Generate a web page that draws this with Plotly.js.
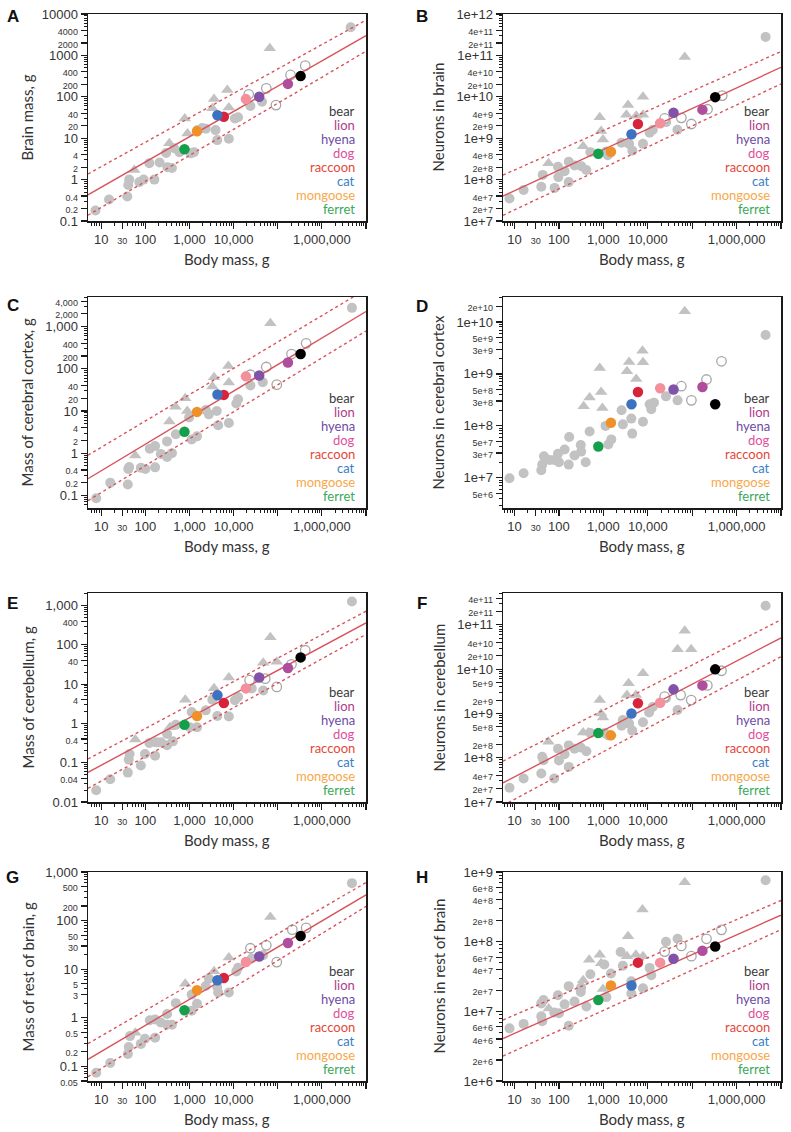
<!DOCTYPE html>
<html>
<head>
<meta charset="utf-8">
<script src="https://cdn.plot.ly/plotly-3.0.1.min.js"></script>
<style>
  html, body { margin: 0; padding: 0; background: #fff; }
  #chart { width: 791px; height: 1132px; }
</style>
</head>
<body>
<div id="chart"></div>
<script>
// Brain scaling in carnivorans - eight log-log panels

// coloured species (top to bottom in the legends) and their body masses, g
const speciesNames = ['bear', 'lion', 'hyena', 'dog', 'raccoon', 'cat', 'mongoose', 'ferret'];
const speciesBody = [330000, 170000, 38000, 19000, 6000, 4300, 1480, 770];
const speciesTextColors = ['#3a3a3a', '#b03c8c', '#6e4aa6', '#e0509e', '#e4483a', '#3b7dc4', '#f6a84a', '#3aa85a'];
const speciesDotColors = ['#000000', '#b04e9e', '#8152a8', '#f4909c', '#d8243a', '#3c72c0', '#f09028', '#14a04a'];

// x axis ticks (shared by all panels)
const xTicks = [10, 30, 100, 1000, 10000, 100000, 1000000, 10000000];
const xLabels = ['10', '30', '100', '1,000', '10,000', '', '1,000,000', ''];

// ---- A: brain mass
const grayA_x = [7.4, 15, 39, 41, 43, 73, 91, 123, 160, 210, 295, 315, 400, 450, 590, 1070, 1260, 1520, 1950, 2340, 3900, 4260, 7800, 10700, 12600, 24000, 44000, 4.5e6];
const grayA_y = [0.18, 0.33, 0.39, 0.74, 1.0, 0.87, 1.0, 2.5, 1.0, 2.6, 4.4, 2.0, 1.9, 5.7, 4.6, 4.3, 4.6, 15.8, 17.7, 16.9, 15.7, 9.0, 9.7, 30, 32, 60, 76, 4800];
const triA_x = [56, 350, 780, 900, 3300, 3600, 7200, 7800, 66000];
const triA_y = [1.7, 7.5, 30, 13, 53, 88, 145, 55, 1480];
const openA_x = [22000, 55000, 91000, 195000, 420000];
const openA_y = [115, 160, 63, 337, 565];
const speciesA_y = [316, 205, 100, 88, 33, 36, 14.7, 5.4];
const fitA = [-0.798, 0.611], upperA = [-0.278, 0.59], lowerA = [-1.302, 0.629];
const yTicksA = [0.1, 0.2, 0.4, 1, 2, 4, 10, 20, 40, 100, 200, 400, 1000, 2000, 4000, 10000];
const yLabelsA = ['0.1', '0.2', '0.4', '1', '2', '4', '10', '20', '40', '100', '200', '400', '1000', '2000', '4000', '10000'];

// ---- B: neurons in brain
const grayB_x = [7.7, 16, 40, 43, 80, 95, 97, 134, 166, 166, 225, 320, 415, 510, 1170, 1260, 2560, 3800, 4500, 7800, 11000, 13000, 26000, 46500, 4.5e6];
const grayB_y = [3.5e7, 5.6e7, 6.7e7, 1.3e8, 6.3e7, 2.05e8, 1.15e8, 1.6e8, 8.7e7, 2.7e8, 2.2e8, 2.1e8, 1.7e8, 4.6e8, 4.8e8, 3.9e8, 7.8e8, 7.3e8, 5.0e8, 7.3e8, 1.35e9, 1.6e9, 2.45e9, 1.6e9, 2.8e11];
const triB_x = [58, 350, 830, 890, 980, 3300, 3600, 5500, 7800, 7800, 68000];
const triB_y = [2.5e8, 6.4e8, 3.2e9, 1.5e9, 9.3e8, 3.7e9, 6.3e9, 3.5e9, 1.0e10, 3.7e9, 9.1e10];
const openB_x = [24000, 57000, 96000, 222000, 475000];
const openB_y = [3.0e9, 3.1e9, 2.2e9, 5.0e9, 1.07e10];
const speciesB_y = [9.8e9, 4.9e9, 4.1e9, 2.3e9, 2.2e9, 1.25e9, 4.7e8, 4.2e8];
const fitB = [7.234, 0.497], upperB = [7.755, 0.477], lowerB = [6.762, 0.507];
const yTicksB = [1e7, 2e7, 4e7, 1e8, 2e8, 4e8, 1e9, 2e9, 4e9, 1e10, 2e10, 4e10, 1e11, 2e11, 4e11, 1e12];
const yLabelsB = ['1e+7', '2e+7', '4e+7', '1e+8', '2e+8', '4e+8', '1e+9', '2e+9', '4e+9', '1e+10', '2e+10', '4e+10', '1e+11', '2e+11', '4e+11', '1e+12'];

// ---- C: mass of cerebral cortex
const grayC_x = [7.7, 16, 40, 41, 43, 79, 100, 126, 166, 166, 224, 310, 310, 400, 490, 1120, 1480, 980, 2340, 2750, 4150, 4470, 7800, 11500, 12600, 24000, 45700, 4.8e6];
const grayC_y = [0.085, 0.20, 0.18, 0.42, 0.47, 0.45, 0.42, 1.27, 1.47, 0.46, 0.96, 0.81, 1.9, 1.0, 2.8, 2.1, 2.5, 7.0, 10.5, 8.3, 10, 4.6, 5.2, 15, 19, 40, 48, 2770];
const triC_x = [59, 350, 480, 800, 890, 3300, 3600, 7600, 7800, 68000];
const triC_y = [0.88, 5.6, 12.6, 20, 10, 38, 63, 116, 47, 1200];
const openC_x = [24000, 55000, 95000, 205000, 440000];
const openC_y = [72, 110, 42, 223, 400];
const speciesC_y = [223, 140, 69, 66, 24, 24.5, 9.5, 3.2];
const fitC = [-1.047, 0.629], upperC = [-0.486, 0.624], lowerC = [-1.572, 0.638];
const yTicksC = [0.1, 0.2, 0.4, 1, 2, 4, 10, 20, 40, 100, 200, 400, 1000, 2000, 4000];
const yLabelsC = ['0.1', '0.2', '0.4', '1', '2', '4', '10', '20', '40', '100', '200', '400', '1,000', '2,000', '4,000'];

// ---- D: neurons in cerebral cortex (no fit)
const grayD_x = [7.7, 16, 40, 42, 46, 62, 79, 95, 100, 134, 166, 170, 224, 310, 316, 400, 490, 1120, 1290, 1510, 2570, 2750, 4260, 4470, 7800, 11000, 12000, 13800, 25700, 46800, 4.5e6];
const grayD_y = [9.8e6, 1.23e7, 1.4e7, 1.8e7, 2.6e7, 2.2e7, 2.2e7, 2.9e7, 2.0e7, 3.5e7, 1.8e7, 6.1e7, 2.7e7, 4.3e7, 3.2e7, 2.0e7, 7.8e7, 1.0e8, 4.4e7, 5.5e7, 2.0e8, 1.07e8, 1.38e8, 7.1e7, 1.2e8, 2.6e8, 2.1e8, 2.8e8, 3.7e8, 3.1e8, 5.6e9];
const triD_x = [360, 490, 830, 890, 950, 3400, 3800, 5500, 7600, 7800, 68000];
const triD_y = [2.4e8, 3.5e8, 1.3e9, 4.5e8, 2.2e8, 1.12e9, 1.7e9, 8.0e8, 2.8e9, 1.67e9, 1.6e10];
const openD_x = [57000, 96000, 210000, 457000];
const openD_y = [5.8e8, 3.1e8, 7.8e8, 1.75e9];
const speciesD_y = [2.6e8, 5.6e8, 5.0e8, 5.3e8, 4.5e8, 2.6e8, 1.15e8, 4.0e7];
const yTicksD = [5e6, 1e7, 3e7, 5e7, 1e8, 3e8, 5e8, 1e9, 3e9, 5e9, 1e10, 2e10];
const yLabelsD = ['5e+6', '1e+7', '3e+7', '5e+7', '1e+8', '3e+8', '5e+8', '1e+9', '3e+9', '5e+9', '1e+10', '2e+10'];

// ---- E: mass of cerebellum
const grayE_x = [7.7, 16, 40, 42, 44, 79, 98, 123, 166, 174, 224, 310, 310, 420, 490, 1020, 1480, 1120, 2340, 3300, 4260, 7800, 10700, 12600, 25700, 46800, 4.8e6];
const grayE_y = [0.02, 0.038, 0.056, 0.12, 0.166, 0.085, 0.166, 0.316, 0.15, 0.33, 0.33, 0.28, 0.54, 0.35, 0.92, 0.80, 0.80, 1.95, 2.15, 4.0, 1.55, 1.5, 3.9, 4.7, 7.8, 6.9, 1270];
const triE_x = [59, 360, 800, 3600, 7800, 46800, 68000, 95000];
const triE_y = [0.39, 0.8, 4.0, 7.9, 14.8, 35, 156, 37];
const openE_x = [23000, 52000, 95000, 205000, 420000];
const openE_y = [12.6, 13.8, 8.5, 32, 73];
const speciesE_y = [48, 25.7, 14.8, 7.8, 3.3, 5.2, 1.55, 0.92];
const fitE = [-1.668, 0.604], upperE = [-1.323, 0.597], lowerE = [-2.088, 0.622];
const yTicksE = [0.01, 0.04, 0.1, 0.4, 1, 4, 10, 40, 100, 400, 1000];
const yLabelsE = ['0.01', '0.04', '0.1', '0.4', '1', '4', '10', '40', '100', '400', '1,000'];

// ---- F: neurons in cerebellum
const grayF_x = [7.7, 16, 40, 42, 45, 78, 95, 100, 134, 166, 166, 224, 310, 415, 510, 1070, 1290, 2570, 2750, 3800, 4470, 7800, 10700, 12900, 25700, 46800, 4.5e6];
const grayF_y = [2.1e7, 3.4e7, 4.4e7, 1.05e8, 8.8e7, 3.4e7, 1.6e8, 8.7e7, 1.2e8, 6.2e7, 1.9e8, 1.6e8, 1.7e8, 1.4e8, 3.6e8, 3.6e8, 3.2e8, 5.3e8, 7.1e8, 5.9e8, 4.1e8, 6.3e8, 1.05e9, 1.4e9, 2.2e9, 1.2e9, 2.7e11];
const triF_x = [58, 350, 460, 830, 890, 980, 3400, 3700, 5400, 7800, 46800, 68000, 95000];
const triF_y = [2.3e8, 3.7e8, 3.7e8, 2.0e9, 1.0e9, 8.1e8, 2.6e9, 4.8e9, 2.6e9, 8.1e9, 2.8e10, 7.4e10, 2.8e10];
const openF_x = [24000, 55000, 95000, 219000, 457000];
const openF_y = [2.4e9, 2.6e9, 2.0e9, 4.3e9, 9.2e9];
const speciesF_y = [9.9e9, 4.3e9, 3.5e9, 1.75e9, 1.7e9, 1.0e9, 3.2e8, 3.6e8];
const fitF = [7.045, 0.523], upperF = [7.544, 0.51], lowerF = [6.524, 0.537];
const yTicksF = [1e7, 2e7, 4e7, 1e8, 2e8, 5e8, 1e9, 2e9, 5e9, 1e10, 2e10, 4e10, 1e11, 2e11, 4e11];
const yLabelsF = ['1e+7', '2e+7', '4e+7', '1e+8', '2e+8', '5e+8', '1e+9', '2e+9', '5e+9', '1e+10', '2e+10', '4e+10', '1e+11', '2e+11', '4e+11'];

// ---- G: mass of rest of brain
const grayG_x = [7.7, 16, 40, 42, 45, 79, 98, 126, 166, 166, 224, 310, 310, 400, 490, 1120, 1480, 1120, 2340, 2750, 4260, 4470, 7800, 11500, 12600, 25700, 46800, 4.8e6];
const grayG_y = [0.074, 0.117, 0.18, 0.25, 0.42, 0.29, 0.37, 0.89, 0.92, 0.39, 0.8, 1.2, 0.72, 0.72, 2.0, 1.4, 1.95, 3.0, 4.5, 6.4, 4.3, 3.3, 3.3, 9.0, 10.7, 16.6, 19.5, 590];
const triG_x = [59, 800, 3600, 7800, 68000];
const triG_y = [0.49, 5.0, 9.1, 17.4, 118];
const openG_x = [24000, 55000, 95000, 214000, 440000];
const openG_y = [27, 31, 14, 65, 71];
const speciesG_y = [48, 34.5, 18.3, 14.1, 6.6, 5.9, 3.7, 1.43];
const fitG = [-1.231, 0.537], upperG = [-0.900, 0.526], lowerG = [-1.601, 0.556];
const yTicksG = [0.05, 0.1, 0.2, 0.5, 1, 3, 5, 10, 30, 50, 100, 200, 500, 1000];
const yLabelsG = ['0.05', '0.1', '0.2', '0.5', '1', '3', '5', '10', '30', '50', '100', '200', '500', '1,000'];

// ---- H: neurons in rest of brain
const grayH_x = [7.7, 16, 40, 42, 45, 40, 78, 95, 100, 134, 166, 166, 224, 310, 316, 415, 510, 1050, 1170, 1480, 2450, 2750, 4260, 4260, 7800, 11000, 12000, 25700, 46800, 4.5e6];
const grayH_y = [5.7e6, 6.6e6, 8.5e6, 7.2e6, 1.45e7, 1.3e7, 9.6e6, 1.7e7, 9.4e6, 1.26e7, 2.3e7, 6.2e6, 1.38e7, 1.9e7, 2.2e7, 1.17e7, 3.4e7, 4.7e7, 1.6e7, 3.5e7, 7.1e7, 4.5e7, 2.7e7, 1.8e7, 2.15e7, 4.2e7, 3.3e7, 1.0e8, 1.1e8, 7.6e8];
const triH_x = [59, 350, 480, 830, 890, 980, 3600, 3400, 5400, 7800, 7600, 68000];
const triH_y = [1.1e7, 2.8e7, 5.5e7, 6.5e7, 4.9e7, 2.1e7, 1.2e8, 6.2e7, 6.5e7, 6.2e7, 2.9e8, 7.1e8];
const openH_x = [24000, 57000, 96000, 210000, 457000];
const openH_y = [7.2e7, 8.7e7, 6.2e7, 1.1e8, 1.48e8];
const speciesH_y = [8.5e7, 7.4e7, 5.7e7, 5.0e7, 5.0e7, 2.35e7, 2.35e7, 1.45e7];
const fitH = [6.40, 0.283], upperH = [6.673, 0.274], lowerH = [6.143, 0.29];
const yTicksH = [1e6, 2e6, 4e6, 6e6, 1e7, 2e7, 4e7, 6e7, 1e8, 2e8, 4e8, 6e8, 1e9];
const yLabelsH = ['1e+6', '2e+6', '4e+6', '6e+6', '1e+7', '2e+7', '4e+7', '6e+7', '1e+8', '2e+8', '4e+8', '6e+8', '1e+9'];

// page geometry (pixels)
const W = 791, H = 1132;
const cols = [[88, 366], [503, 781]];
const rows = [[14, 221], [297, 508], [593, 802], [872, 1081]];
const xRanges = [[0.70, 7.0], [0.74, 7.0]];

const panels = [
  { letter: 'A', col: 0, row: 0, title: 'Brain mass, g', yRange: [-1, 4], yt: yTicksA, yl: yLabelsA,
    gx: grayA_x, gy: grayA_y, tx: triA_x, ty: triA_y, ox: openA_x, oy: openA_y, sy: speciesA_y, fits: [fitA, upperA, lowerA], letterY: 17 },
  { letter: 'B', col: 1, row: 0, title: 'Neurons in brain', yRange: [7, 12], yt: yTicksB, yl: yLabelsB,
    gx: grayB_x, gy: grayB_y, tx: triB_x, ty: triB_y, ox: openB_x, oy: openB_y, sy: speciesB_y, fits: [fitB, upperB, lowerB], letterY: 17 },
  { letter: 'C', col: 0, row: 1, title: 'Mass of cerebral cortex, g', yRange: [-1.3, 3.7], yt: yTicksC, yl: yLabelsC,
    gx: grayC_x, gy: grayC_y, tx: triC_x, ty: triC_y, ox: openC_x, oy: openC_y, sy: speciesC_y, fits: [fitC, upperC, lowerC], letterY: 305 },
  { letter: 'D', col: 1, row: 1, title: 'Neurons in cerebral cortex', yRange: [6.42, 10.48], yt: yTicksD, yl: yLabelsD,
    gx: grayD_x, gy: grayD_y, tx: triD_x, ty: triD_y, ox: openD_x, oy: openD_y, sy: speciesD_y, fits: [], letterY: 307 },
  { letter: 'E', col: 0, row: 2, title: 'Mass of cerebellum, g', yRange: [-2, 3.32], yt: yTicksE, yl: yLabelsE,
    gx: grayE_x, gy: grayE_y, tx: triE_x, ty: triE_y, ox: openE_x, oy: openE_y, sy: speciesE_y, fits: [fitE, upperE, lowerE], letterY: 603 },
  { letter: 'F', col: 1, row: 2, title: 'Neurons in cerebellum', yRange: [7, 11.72], yt: yTicksF, yl: yLabelsF,
    gx: grayF_x, gy: grayF_y, tx: triF_x, ty: triF_y, ox: openF_x, oy: openF_y, sy: speciesF_y, fits: [fitF, upperF, lowerF], letterY: 603 },
  { letter: 'G', col: 0, row: 3, title: 'Mass of rest of brain, g', yRange: [-1.301, 3], yt: yTicksG, yl: yLabelsG,
    gx: grayG_x, gy: grayG_y, tx: triG_x, ty: triG_y, ox: openG_x, oy: openG_y, sy: speciesG_y, fits: [fitG, upperG, lowerG], letterY: 877 },
  { letter: 'H', col: 1, row: 3, title: 'Neurons in rest of brain', yRange: [6, 9], yt: yTicksH, yl: yLabelsH,
    gx: grayH_x, gy: grayH_y, tx: triH_x, ty: triH_y, ox: openH_x, oy: openH_y, sy: speciesH_y, fits: [fitH, upperH, lowerH], letterY: 877 }
];

const LINE_RED = '#d9535b';
const GRAY = '#c2c2c2';
const tickFamily = '"Liberation Sans", Arial, sans-serif';
const textFamily = 'Lato, "Noto Sans", sans-serif';

function isPow10(v) {
  const l = Math.log10(v);
  return Math.abs(l - Math.round(l)) < 1e-9;
}

function smallLabel(t) {
  return t === '' ? '' : '<span style="font-size:9px">' + t + '</span>';
}

// minor ticks at 2..9 of each decade, leaving out the labelled ones
function minorTicks(range, skip) {
  const out = [];
  for (let k = Math.floor(range[0]); k <= Math.ceil(range[1]); k++) {
    for (let m = 2; m <= 9; m++) {
      const v = m * Math.pow(10, k);
      const lv = Math.log10(v);
      if (lv < range[0] - 1e-9 || lv > range[1] + 1e-9) continue;
      if (skip.some(s => Math.abs(Math.log10(s) - lv) < 1e-6)) continue;
      out.push(v);
    }
  }
  return out;
}

function axisBase() {
  return {
    type: 'log',
    showline: true, linecolor: '#1a1a1a', linewidth: 1.5, mirror: true,
    ticks: 'outside', ticklen: 6, tickwidth: 1.2, tickcolor: '#1a1a1a',
    tickmode: 'array',
    tickfont: { family: tickFamily, size: 13, color: '#333' },
    showgrid: false, zeroline: false, fixedrange: true
  };
}

const traces = [];
const layout = {
  width: W, height: H,
  margin: { l: 0, r: 0, t: 0, b: 0 },
  paper_bgcolor: '#ffffff', plot_bgcolor: '#ffffff',
  showlegend: false,
  annotations: []
};

panels.forEach((p, i) => {
  const sfx = i === 0 ? '' : String(i + 1);
  const xa = 'x' + sfx, ya = 'y' + sfx;
  const col = cols[p.col], row = rows[p.row];
  const xr = xRanges[p.col];

  const xaxis = Object.assign(axisBase(), {
    domain: [col[0] / W, col[1] / W],
    range: xr,
    anchor: ya,
    tickvals: xTicks,
    ticktext: xLabels.map((t, k) => isPow10(xTicks[k]) ? t : smallLabel(t)),
    minor: { ticks: 'outside', ticklen: 3, tickwidth: 1, tickcolor: '#1a1a1a', tickmode: 'array',
             tickvals: minorTicks(xr, xTicks), showgrid: false }
  });
  const yaxis = Object.assign(axisBase(), {
    domain: [1 - row[1] / H, 1 - row[0] / H],
    range: p.yRange,
    anchor: xa,
    tickvals: p.yt,
    ticktext: p.yl.map((t, k) => isPow10(p.yt[k]) ? t : smallLabel(t)),
    minor: { ticks: 'outside', ticklen: 3, tickwidth: 1, tickcolor: '#1a1a1a', tickmode: 'array',
             tickvals: minorTicks(p.yRange, p.yt), showgrid: false }
  });
  layout['xaxis' + sfx] = xaxis;
  layout['yaxis' + sfx] = yaxis;

  // gray species
  traces.push({ type: 'scatter', mode: 'markers', xaxis: xa, yaxis: ya, x: p.gx, y: p.gy,
    marker: { symbol: 'circle', size: 10, color: GRAY }, hoverinfo: 'x+y' });
  traces.push({ type: 'scatter', mode: 'markers', xaxis: xa, yaxis: ya, x: p.tx, y: p.ty,
    marker: { symbol: 'triangle-up', size: 11, color: GRAY }, hoverinfo: 'x+y' });
  traces.push({ type: 'scatter', mode: 'markers', xaxis: xa, yaxis: ya, x: p.ox, y: p.oy,
    marker: { symbol: 'circle', size: 9.5, color: '#ffffff', line: { color: '#a6a6a6', width: 1.3 } }, hoverinfo: 'x+y' });

  // regression line and its bounds
  p.fits.forEach((f, k) => {
    const xs = [Math.pow(10, xr[0]), Math.pow(10, xr[1])];
    traces.push({ type: 'scatter', mode: 'lines', xaxis: xa, yaxis: ya, x: xs,
      y: xs.map(v => Math.pow(10, f[0] + f[1] * Math.log10(v))),
      line: { color: LINE_RED, width: 1.4, dash: k === 0 ? 'solid' : 'dot' }, hoverinfo: 'skip' });
  });

  // coloured species
  traces.push({ type: 'scatter', mode: 'markers', xaxis: xa, yaxis: ya, x: speciesBody, y: p.sy,
    text: speciesNames, hoverinfo: 'text+x+y',
    marker: { symbol: 'circle', size: 10.5, color: speciesDotColors } });

  // legend text
  speciesNames.forEach((name, k) => {
    layout.annotations.push({
      xref: xa + ' domain', yref: ya + ' domain', x: 1, y: 0,
      xanchor: 'right', yanchor: 'middle', xshift: -9, yshift: 12 + 14 * (speciesNames.length - 1 - k),
      text: name, showarrow: false,
      font: { family: textFamily, size: 13, color: speciesTextColors[k] }
    });
  });

  // axis titles
  layout.annotations.push({
    xref: 'paper', yref: 'paper', x: (col[0] + col[1]) / 2 / W, y: 1 - (row[1] + 38) / H,
    xanchor: 'center', yanchor: 'middle', text: 'Body mass, g', showarrow: false,
    font: { family: textFamily, size: 15, color: '#333' }
  });
  layout.annotations.push({
    xref: 'paper', yref: 'paper', x: (p.col === 0 ? 27 : 438) / W, y: 1 - (row[0] + row[1]) / 2 / H,
    xanchor: 'center', yanchor: 'middle', textangle: -90, text: p.title, showarrow: false,
    font: { family: textFamily, size: 15, color: '#333' }
  });

  // panel letter
  layout.annotations.push({
    xref: 'paper', yref: 'paper', x: (p.col === 0 ? 13 : 422) / W, y: 1 - p.letterY / H,
    xanchor: 'center', yanchor: 'middle', text: '<b>' + p.letter + '</b>', showarrow: false,
    font: { family: tickFamily, size: 17, color: '#111' }
  });
});

Plotly.newPlot('chart', traces, layout, { staticPlot: true, displayModeBar: false });
</script>
</body>
</html>
